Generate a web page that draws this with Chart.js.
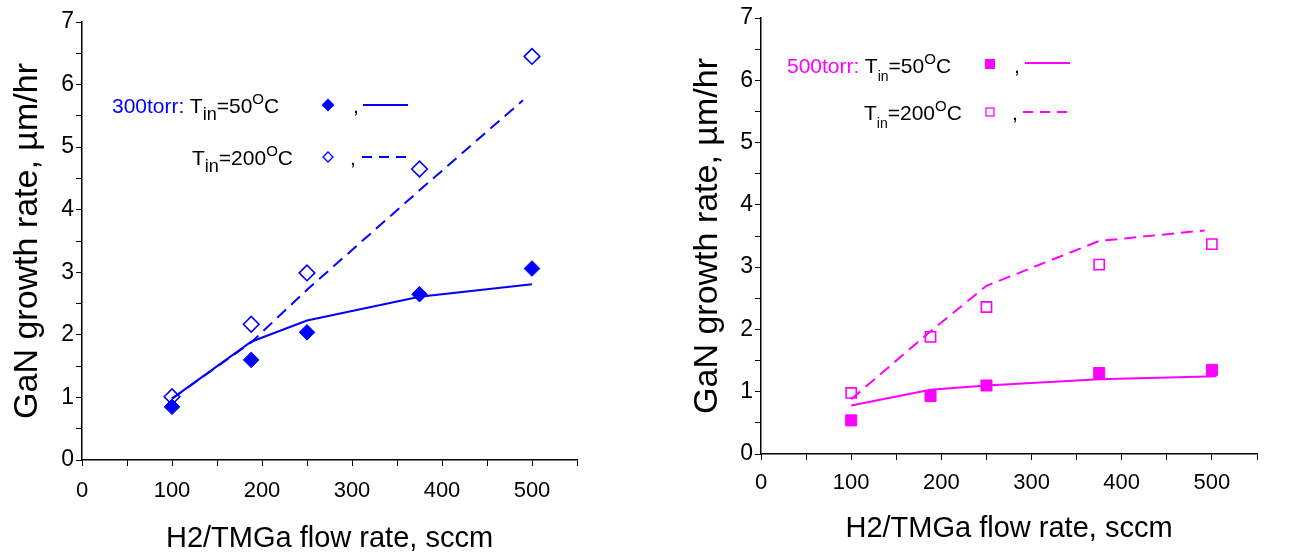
<!DOCTYPE html>
<html>
<head>
<meta charset="utf-8">
<script src="https://cdn.jsdelivr.net/npm/chart.js@4.4.1/dist/chart.umd.min.js"></script>
<style>
html,body{margin:0;padding:0;background:#fff;}
body{width:1308px;height:553px;position:relative;overflow:hidden;font-family:"Liberation Sans",Arial,Helvetica,sans-serif;}
.wrap{position:absolute;top:0;width:654px;height:553px;}
.txt{position:absolute;font-size:21px;line-height:21px;color:#000;white-space:nowrap;}
.txt .sub{position:relative;top:7px;font-size:18px;}
.txt .subs{position:relative;top:8px;font-size:14px;}
.txt .sup{position:relative;top:-9px;font-size:15px;}
.mk{position:absolute;overflow:visible;}
</style>
</head>
<body>
<div class="wrap" style="left:0"><canvas id="c1" width="654" height="553"></canvas></div>
<div class="wrap" style="left:654px"><canvas id="c2" width="654" height="553"></canvas></div>

<!-- left legend -->
<div class="txt" style="left:112px;top:95px"><span style="color:#0000ff">300torr:</span> T<span class="sub">in</span>=50<span class="sup">O</span>C</div>
<svg class="mk" style="left:320px;top:97px" width="16" height="16"><polygon points="8,1.5 14.5,8 8,14.5 1.5,8" fill="#0000ff"/></svg>
<div class="txt" style="left:353px;top:95px">,</div>
<svg class="mk" style="left:363px;top:100px" width="46" height="10"><line x1="0" y1="5" x2="45" y2="5" stroke="#0000ff" stroke-width="2"/></svg>
<div class="txt" style="left:192px;top:147px">T<span class="sub">in</span>=200<span class="sup">O</span>C</div>
<svg class="mk" style="left:320px;top:149px" width="16" height="16"><polygon points="8,3 13,8 8,13 3,8" fill="none" stroke="#0000ff" stroke-width="1.3"/></svg>
<div class="txt" style="left:350px;top:147px">,</div>
<svg class="mk" style="left:362px;top:152px" width="46" height="10"><line x1="0" y1="5" x2="44" y2="5" stroke="#0000ff" stroke-width="2" stroke-dasharray="10,7"/></svg>

<!-- right legend -->
<div class="txt" style="left:787px;top:55px"><span style="color:#ff00ff">500torr:</span> T<span class="subs">in</span>=50<span class="sup">O</span>C</div>
<svg class="mk" style="left:982px;top:56px" width="16" height="16"><rect x="3" y="3" width="10" height="10" fill="#ff00ff"/></svg>
<div class="txt" style="left:1014px;top:55px">,</div>
<svg class="mk" style="left:1025px;top:58px" width="46" height="10"><line x1="0" y1="5" x2="45" y2="5" stroke="#ff00ff" stroke-width="2"/></svg>
<div class="txt" style="left:864px;top:102px">T<span class="subs">in</span>=200<span class="sup">O</span>C</div>
<svg class="mk" style="left:982px;top:104px" width="16" height="16"><rect x="4" y="4" width="8" height="8" fill="none" stroke="#ff00ff" stroke-width="1.3"/></svg>
<div class="txt" style="left:1012px;top:102px">,</div>
<svg class="mk" style="left:1023px;top:107px" width="46" height="10"><line x1="0" y1="5" x2="44" y2="5" stroke="#ff00ff" stroke-width="2" stroke-dasharray="10,7"/></svg>

<script>
// ---- data ----
const flowRates = [100, 188, 250, 375, 500];

// 300 torr
const rate300_T50 = [0.85, 1.60, 2.04, 2.65, 3.06];
const rate300_T200 = [1.01, 2.17, 2.99, 4.65, 6.45];
const fit300_T50_x = [100, 188, 250, 375, 500];
const fit300_T50_y = [0.98, 1.89, 2.23, 2.61, 2.81];
const fit300_T200_x = [100, 188, 250, 375, 490];
const fit300_T200_y = [0.98, 1.88, 2.72, 4.31, 5.75];

// 500 torr
const rate500_T50 = [0.54, 0.93, 1.10, 1.30, 1.35];
const rate500_T200 = [0.98, 1.88, 2.36, 3.04, 3.37];
const fit500_T50_x = [100, 188, 250, 375, 505];
const fit500_T50_y = [0.78, 1.03, 1.10, 1.20, 1.25];
const fit500_T200_x = [100, 188, 250, 375, 492];
const fit500_T200_y = [0.88, 1.97, 2.70, 3.42, 3.59];

const xTitle = 'H2/TMGa flow rate, sccm';
const yTitle = 'GaN growth rate, \u00b5m/hr';
const xMin = 0, xMax = 550, xStep = 50;
const yMin = 0, yMax = 7, yStep = 0.5;

const FONT = '"Liberation Sans", Arial, Helvetica, sans-serif';
const zip = (xs, ys) => xs.map((x, i) => ({x: x, y: ys[i]}));

function build(id, color, ptStyle, pts50, pts200, f50x, f50y, f200x, f200y, L) {
  const isRect = ptStyle === 'rect';
  return new Chart(document.getElementById(id), {
    type: 'scatter',
    data: {
      datasets: [
        {data: zip(f50x, f50y), showLine: true, borderColor: color, borderWidth: 2, pointRadius: 0, fill: false},
        {data: zip(f200x, f200y), showLine: true, borderColor: color, borderWidth: 2, borderDash: [12, 7], pointRadius: 0, fill: false},
        {data: zip(flowRates, pts50), showLine: false, pointStyle: ptStyle, pointRadius: isRect ? 7.8 : 7.8,
         backgroundColor: color, borderColor: color, borderWidth: 1},
        {data: zip(flowRates, pts200), showLine: false, pointStyle: ptStyle, pointRadius: isRect ? 7.2 : 7.8,
         backgroundColor: 'rgba(0,0,0,0)', borderColor: color, borderWidth: 1.6}
      ]
    },
    options: {
      responsive: false, animation: false, events: [],
      layout: {padding: {left: 0, top: L.top, right: 654 - L.right, bottom: 0}},
      plugins: {legend: {display: false}, tooltip: {enabled: false}},
      scales: {
        x: {
          type: 'linear', min: xMin, max: xMax,
          afterFit: s => { s.height = 553 - L.bottom; },
          border: {display: true, color: '#000', width: 1.5},
          grid: {display: true, drawOnChartArea: false, drawTicks: true, tickLength: 6, color: '#000', lineWidth: 1},
          ticks: {stepSize: xStep, autoSkip: false, maxRotation: 0, color: '#000', padding: L.xPad,
                  font: {family: FONT, size: 22},
                  callback: v => (v % 100 === 0 ? String(v) : '')},
          title: {display: true, text: xTitle, color: '#000', font: {family: FONT, size: 29, lineHeight: 1},
                  padding: {top: 0, bottom: L.xTitlePad}}
        },
        y: {
          type: 'linear', min: yMin, max: yMax,
          afterFit: s => { s.width = L.left; },
          border: {display: true, color: '#000', width: 1.5},
          grid: {display: true, drawOnChartArea: false, drawTicks: true, tickLength: 6, color: '#000', lineWidth: 1},
          ticks: {stepSize: yStep, autoSkip: false, color: '#000', padding: 2,
                  font: {family: FONT, size: 23},
                  callback: v => (Math.abs(v - Math.round(v)) < 1e-6 ? String(Math.round(v)) : '')},
          title: {display: true, text: yTitle, color: '#000', font: {family: FONT, size: 34, lineHeight: 1},
                  padding: {top: L.yTitlePad, bottom: 0}}
        }
      }
    }
  });
}

build('c1', '#0000ff', 'rectRot', rate300_T50, rate300_T200, fit300_T50_x, fit300_T50_y, fit300_T200_x, fit300_T200_y,
      {left: 82, right: 577, top: 22, bottom: 460, xPad: 12, xTitlePad: -0.5, yTitlePad: 11});
build('c2', '#ff00ff', 'rect', rate500_T50, rate500_T200, fit500_T50_x, fit500_T50_y, fit500_T200_x, fit500_T200_y,
      {left: 107, right: 603, top: 18, bottom: 454, xPad: 10, xTitlePad: 9.5, yTitlePad: 37});
</script>
</body>
</html>
